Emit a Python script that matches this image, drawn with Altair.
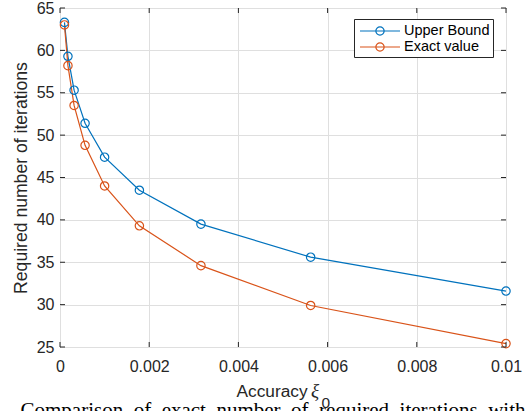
import altair as alt
import pandas as pd

# ---- data ----
accuracy = [0.0001, 0.000178, 0.000316, 0.000562, 0.001, 0.00178, 0.00316, 0.00562, 0.01]
upper_bound = [63.3, 59.3, 55.3, 51.4, 47.4, 43.5, 39.5, 35.6, 31.6]
exact_value = [63.0, 58.2, 53.5, 48.8, 44.0, 39.3, 34.6, 29.9, 25.4]
series_names = ["Upper Bound", "Exact value"]
series_colors = ["#0072BD", "#D95319"]
x_ticks = [0, 0.002, 0.004, 0.006, 0.008, 0.01]
y_ticks = [25, 30, 35, 40, 45, 50, 55, 60, 65]
caption = "Comparison\u00a0 of\u00a0 exact\u00a0 number\u00a0 of\u00a0 required\u00a0 iterations\u00a0 with\u00a0 the"

W, H = 446, 339
FONT = "Liberation Sans"
AX = "#262626"

rows = []
for name, vals in zip(series_names, [upper_bound, exact_value]):
    for a, v in zip(accuracy, vals):
        rows.append({"accuracy": a, "iterations": v, "series": name})
df = pd.DataFrame(rows)

xscale = alt.Scale(domain=[0, 0.01], nice=False, zero=False)
yscale = alt.Scale(domain=[25, 65], nice=False, zero=False)

# legend glyph: 40px line with a hollow circle (unit = 8px for size 256)
legend_path = ("M-2.5,0L2.5,0M0.52,0A0.52,0.52,0,1,1,-0.52,0"
               "A0.52,0.52,0,1,1,0.52,0")

color = alt.Color(
    "series:N",
    scale=alt.Scale(domain=series_names, range=series_colors),
    legend=alt.Legend(
        orient="none", legendX=294, legendY=11, title=None,
        strokeColor=AX, fillColor="white", padding=3,
        symbolType=legend_path, symbolSize=256, symbolStrokeWidth=1.2,
        symbolFillColor="transparent", symbolOffset=14, labelFont=FONT, labelFontSize=14.5,
        labelColor="#000000", labelOffset=15, rowPadding=0,
    ),
)

x_enc = alt.X(
    "accuracy:Q", scale=xscale, title=None,
    axis=alt.Axis(values=x_ticks, labelExpr="datum.value == 0 ? '0' : format(datum.value, '.3~f')",
                  labelFont=FONT, labelFontSize=16, labelColor=AX, labelPadding=11,
                  ticks=False, tickSize=0, domain=False, grid=True,
                  gridColor="#dfdfdf", labelFlush=False),
)
y_enc = alt.Y(
    "iterations:Q", scale=yscale,
    title="Required number of iterations",
    axis=alt.Axis(values=y_ticks, labelFont=FONT, labelFontSize=16, labelColor=AX,
                  labelPadding=6, ticks=False, tickSize=0, domain=False, grid=True,
                  gridColor="#dfdfdf", titleFont=FONT, titleFontSize=17.6,
                  titleFontWeight="normal", titleColor=AX, titlePadding=6,
                  labelFlush=False),
)

base = alt.Chart(df)
lines = base.mark_line(strokeWidth=1.2).encode(x=x_enc, y=y_enc, color=color)
points = base.mark_point(shape="circle", size=70, filled=False, strokeWidth=1.2, opacity=1).encode(
    x="accuracy:Q", y="iterations:Q", color=alt.Color("series:N", legend=None,
        scale=alt.Scale(domain=series_names, range=series_colors)))

xt = pd.DataFrame({"t": x_ticks})
yt = pd.DataFrame({"t": y_ticks})
tick_bottom = alt.Chart(xt).mark_rule(color=AX, strokeWidth=1).encode(
    x=alt.X("t:Q", scale=xscale), y=alt.value(H), y2=alt.value(H - 5))
tick_top = alt.Chart(xt).mark_rule(color=AX, strokeWidth=1).encode(
    x=alt.X("t:Q", scale=xscale), y=alt.value(0), y2=alt.value(5))
tick_left = alt.Chart(yt).mark_rule(color=AX, strokeWidth=1).encode(
    y=alt.Y("t:Q", scale=yscale), x=alt.value(0), x2=alt.value(5))
tick_right = alt.Chart(yt).mark_rule(color=AX, strokeWidth=1).encode(
    y=alt.Y("t:Q", scale=yscale), x=alt.value(W), x2=alt.value(W - 5))

one = pd.DataFrame({"a": [0]})
t_acc = alt.Chart(one).mark_text(text="Accuracy", font=FONT, fontSize=17.3, color=AX,
                                 align="left", baseline="alphabetic").encode(
    x=alt.value(176.5), y=alt.value(388.5))
t_xi = alt.Chart(one).mark_text(text="ξ", font="Liberation Serif", fontStyle="italic",
                                fontSize=19, color=AX, align="left", baseline="alphabetic").encode(
    x=alt.value(251), y=alt.value(388.5))
t_sub = alt.Chart(one).mark_text(text="0", font=FONT, fontSize=15.5, color=AX,
                                 align="left", baseline="alphabetic").encode(
    x=alt.value(261.5), y=alt.value(400))
t_cap = alt.Chart(one).mark_text(text=caption, font="Liberation Serif", fontSize=21,
                                 color="#000000", align="left", baseline="alphabetic").encode(
    x=alt.value(-39.5), y=alt.value(408.5))

chart = alt.layer(
    lines, points, tick_bottom, tick_top, tick_left, tick_right,
    t_cap, t_acc, t_xi, t_sub,
).properties(
    width=W, height=H,
    autosize=alt.AutoSizeParams(type="none"),
    padding={"left": 60, "top": 8, "right": 23, "bottom": 64},
    background="white",
).configure_view(stroke=AX, strokeWidth=1)

chart.save("out.html", embed_options={"renderer": "svg", "actions": False})
